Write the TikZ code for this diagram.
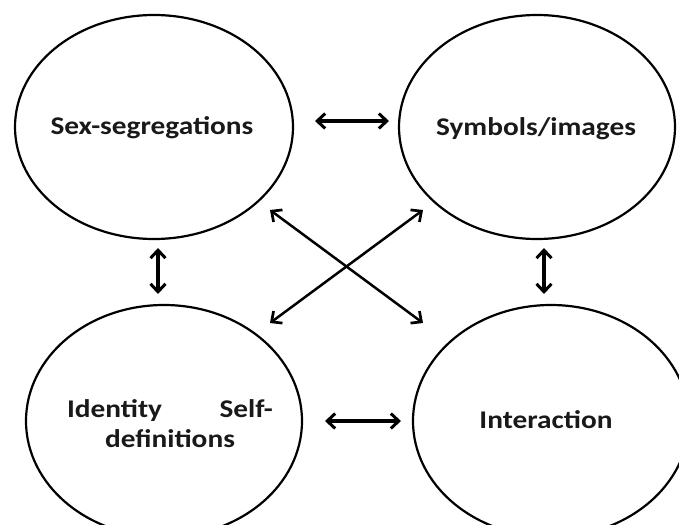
\documentclass[tikz,border=0pt]{standalone}
\usepackage{fontspec}
\setmainfont{Carlito}
\usetikzlibrary{arrows.meta,shapes.geometric}
\tikzset{
  bubble/.style={draw, line width=2.2pt, ellipse, outer sep=0pt, inner sep=0pt},
  lbl/.style={font=\fontsize{25.5}{30}\selectfont\bfseries, text=black!90, xscale=1.15, transform shape},
  thickarr/.style={line width=3.2pt, {Straight Barb[length=8pt,width=15pt,line width=3pt]}-{Straight Barb[length=8pt,width=15pt,line width=3pt]}},
  thinarr/.style={line width=2.5pt, {Straight Barb[length=8pt,width=15pt,line width=2.7pt]}-{Straight Barb[length=8pt,width=15pt,line width=2.7pt]}}
}
\begin{document}
\begin{tikzpicture}[x=1pt,y=-1pt]
\useasboundingbox (0,0) rectangle (679,524);
\clip (0,0) rectangle (679,524);
\node[bubble, minimum width=278pt, minimum height=224pt] (e1) at (154,127) {};
\node[bubble, minimum width=276pt, minimum height=224pt] (e2) at (537,127) {};
\node[bubble, minimum width=276pt, minimum height=232pt] (e3) at (164,421) {};
\node[bubble, minimum width=276pt, minimum height=232pt] (e4) at (551,421) {};
\node[lbl] (tl) at (152,128) {Sex-segregations};
\node[lbl] (tr) at (536,129) {Symbols/images};
\node[lbl, align=center] (bl) at (170,424) {\makebox[179pt]{Identity\hfill Self-}\\definitions};
\node[lbl] (br) at (546,420) {Interaction};
% arrow end points
\coordinate (h1a) at (315,121);
\coordinate (h1b) at (389,121);
\coordinate (h2a) at (325,421);
\coordinate (h2b) at (401,421);
\coordinate (v1a) at (158,248);
\coordinate (v1b) at (158,294);
\coordinate (v2a) at (544,248);
\coordinate (v2b) at (544,294);
\coordinate (d1a) at (270,210);
\coordinate (d1b) at (423,323);
\coordinate (d2a) at (423,210);
\coordinate (d2b) at (270,323);
\draw[thickarr] (h1a) -- (h1b);
\draw[thickarr] (h2a) -- (h2b);
\draw[thickarr] (v1a) -- (v1b);
\draw[thickarr] (v2a) -- (v2b);
\draw[thinarr] (d1a) -- (d1b);
\draw[thinarr] (d2a) -- (d2b);
\end{tikzpicture}
\end{document}
